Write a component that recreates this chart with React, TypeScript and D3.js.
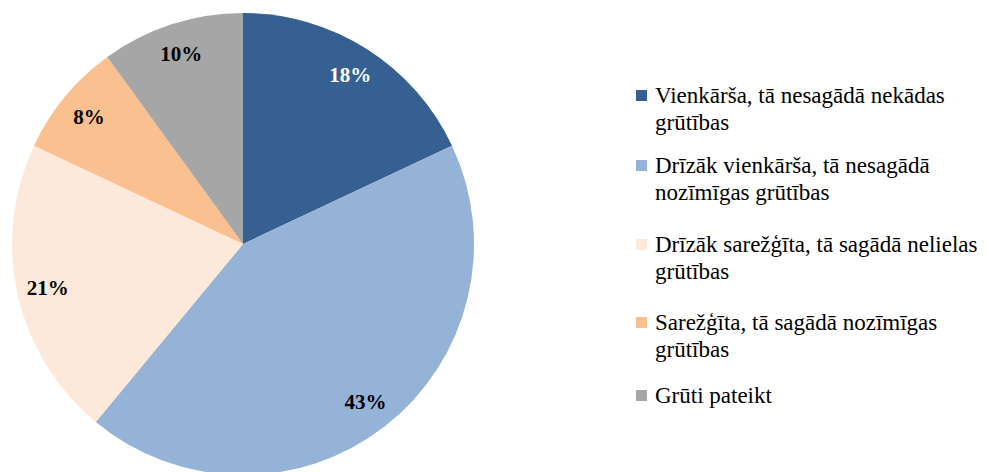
import React from "react";
import * as d3 from "d3";

const categories = [
  ["Vienkārša, tā nesagādā nekādas", "grūtības"],
  ["Drīzāk vienkārša, tā nesagādā", "nozīmīgas grūtības"],
  ["Drīzāk sarežģīta, tā sagādā nelielas", "grūtības"],
  ["Sarežģīta, tā sagādā nozīmīgas", "grūtības"],
  ["Grūti pateikt"],
];
const values = [18, 43, 21, 8, 10];
const labels = ["18%", "43%", "21%", "8%", "10%"];
const colors = ["#376092", "#95B3D7", "#FDE9D9", "#FAC090", "#A6A6A6"];
const labelColors = ["#ffffff", "#000000", "#000000", "#000000", "#000000"];
const legendBaselines = [103, 173, 252, 330, 403];

const FONT = '"Liberation Serif"';

export default function App() {
  const W = 987, H = 472;
  const cx = 243, cy = 244, r = 231;
  const pie = d3.pie<number>().sort(null).value((d) => d)(values);
  const arc = d3.arc<d3.PieArcDatum<number>>().innerRadius(0).outerRadius(r);
  const labelArc = d3.arc<d3.PieArcDatum<number>>().innerRadius(200).outerRadius(200);
  return (
    <svg
      width={W}
      height={H}
      style={{ position: "absolute", left: 0, top: 0, background: "#fff" }}
    >
      <g transform={`translate(${cx},${cy})`}>
        {pie.map((p, i) => (
          <path key={i} d={arc(p) || ""} fill={colors[i]} />
        ))}
        {pie.map((p, i) => {
          const [x, y] = labelArc.centroid(p);
          return (
            <text
              key={i}
              x={x}
              y={y}
              textAnchor="middle"
              dominantBaseline="central"
              style={{ fontFamily: FONT, fontWeight: "bold", fontSize: "21px" }}
              fill={labelColors[i]}
            >
              {labels[i]}
            </text>
          );
        })}
      </g>
      <g>
        {categories.map((lines, i) => (
          <g key={i}>
            <rect x={636} y={legendBaselines[i] - 13} width={11} height={11} fill={colors[i]} />
            {lines.map((t, j) => (
              <text
                key={j}
                x={655}
                y={legendBaselines[i] + j * 27}
                style={{ fontFamily: FONT, fontSize: "23px" }}
                fill="#000"
              >
                {t}
              </text>
            ))}
          </g>
        ))}
      </g>
    </svg>
  );
}
